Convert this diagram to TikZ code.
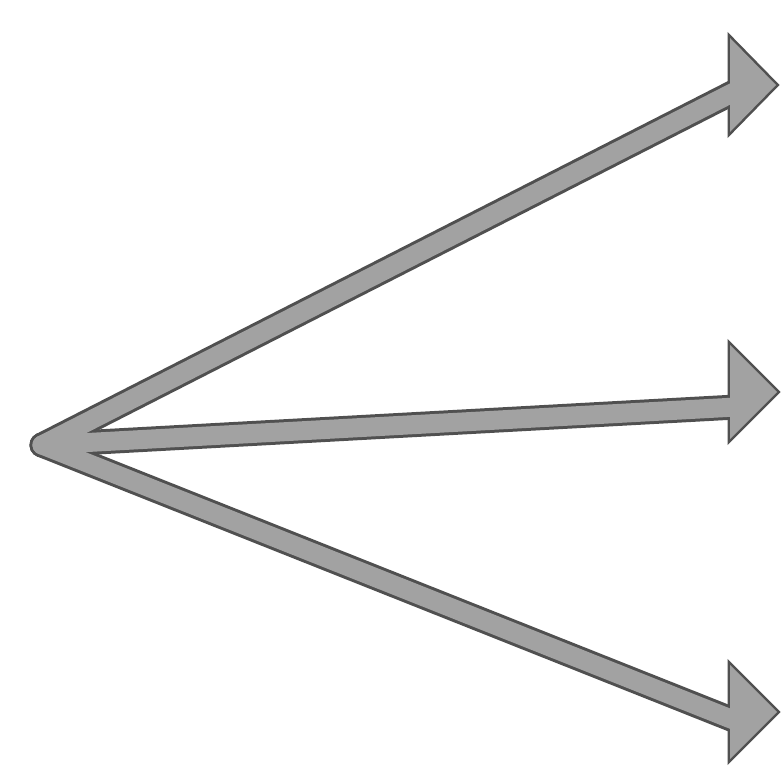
\documentclass[tikz,border=0pt]{standalone}
\begin{document}
\begin{tikzpicture}[x=1pt,y=-1pt]
\definecolor{edgegray}{HTML}{505050}
\definecolor{fillgray}{HTML}{A2A2A2}
\tikzset{
  shaftout/.style={line width=25pt, draw=edgegray, line cap=round},
  shaftin/.style={line width=19pt, draw=fillgray, line cap=round},
  headout/.style={draw=edgegray, fill=edgegray, line width=5pt, line join=miter},
  headin/.style={fill=fillgray}
}
\useasboundingbox (0,0) rectangle (781,770);
% origin and shaft ends
\coordinate (o) at (42,445);
\coordinate (t) at (736,91);
\coordinate (m) at (736,407);
\coordinate (b) at (736,721);
% head triangles: base top, base bottom, tip
\coordinate (t1) at (730,38);  \coordinate (t2) at (730,132); \coordinate (t3) at (776,85);
\coordinate (m1) at (730,345); \coordinate (m2) at (730,439); \coordinate (m3) at (777,392);
\coordinate (b1) at (730,665); \coordinate (b2) at (730,759); \coordinate (b3) at (777,712);
% dark outlines
\draw[shaftout] (o) -- (t);
\draw[shaftout] (o) -- (m);
\draw[shaftout] (o) -- (b);
\path[headout] (t1) -- (t3) -- (t2) -- cycle;
\path[headout] (m1) -- (m3) -- (m2) -- cycle;
\path[headout] (b1) -- (b3) -- (b2) -- cycle;
% light interiors
\draw[shaftin] (o) -- (t);
\draw[shaftin] (o) -- (m);
\draw[shaftin] (o) -- (b);
\path[headin] (t1) -- (t3) -- (t2) -- cycle;
\path[headin] (m1) -- (m3) -- (m2) -- cycle;
\path[headin] (b1) -- (b3) -- (b2) -- cycle;
\end{tikzpicture}
\end{document}
